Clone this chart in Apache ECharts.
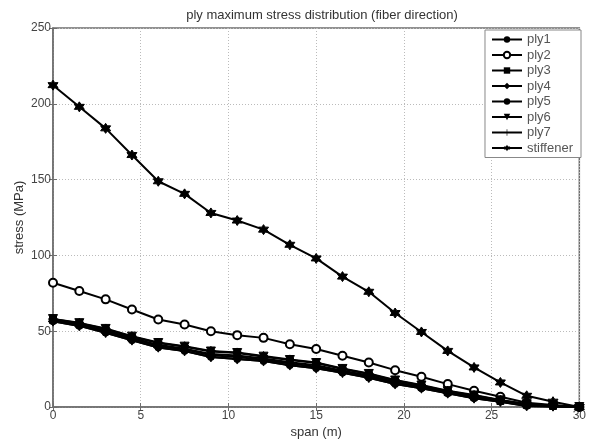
<!DOCTYPE html>
<html>
<head>
<meta charset="utf-8">
<script src="https://cdn.jsdelivr.net/npm/echarts@6/dist/echarts.min.js"></script>
<style>html,body{margin:0;padding:0;background:#fff}#c{width:589px;height:444px}</style>
</head>
<body>
<div id="c"></div>
<script>
const span = [0, 1.5, 3, 4.5, 6, 7.5, 9, 10.5, 12, 13.5, 15, 16.5, 18, 19.5, 21, 22.5, 24, 25.5, 27, 28.5, 30];
const ply1 = [56.5, 53.5, 49, 44, 39.3, 37, 33, 31.6, 30.3, 27.6, 25.6, 22.6, 19.3, 15.1, 12.3, 9, 5.7, 3.5, 0.7, 0.4, 0];
const ply2 = [82, 76.5, 71, 64.3, 57.7, 54.4, 50, 47.4, 45.6, 41.4, 38.2, 33.8, 29.4, 24.3, 20, 15.1, 10.7, 6.8, 2.8, 1.3, 0];
const ply3 = [57.5, 54.5, 50.5, 45.5, 41, 38.5, 35, 34, 32, 29.5, 27.5, 24, 20.8, 16.5, 13.4, 9.8, 6.8, 4, 1.4, 0.7, 0];
const ply4 = [58, 55.5, 51.8, 46.7, 42.5, 40.1, 37, 36, 33.6, 31.4, 29.3, 25.4, 22.1, 17.8, 14.5, 10.7, 7.9, 4.6, 2, 1, 0];
const ply5 = [57, 54, 50, 45, 40.3, 38, 34.2, 33, 31.2, 28.7, 26.6, 23.4, 20.1, 15.8, 12.9, 9.4, 6.3, 3.8, 1, 0.5, 0];
const ply6 = [58, 55.3, 51.5, 46.4, 42.2, 39.8, 36.6, 35.6, 33.2, 31, 29, 25.1, 21.8, 17.5, 14.2, 10.4, 7.6, 4.4, 1.8, 0.9, 0];
const ply7 = [56.5, 53.5, 49, 44, 39.3, 37, 33, 31.6, 30.3, 27.6, 25.6, 22.6, 19.3, 15.1, 12.3, 9, 5.7, 3.5, 0.7, 0.4, 0];
const stiffener = [212.3, 198, 183.8, 166.2, 148.9, 140.6, 128, 123, 117, 107, 98, 86, 76, 62, 49.5, 37, 26.1, 16.2, 7.4, 3.5, 0];
const xTicks = [0, 5, 10, 15, 20, 25, 30];
const yTicks = [0, 50, 100, 150, 200, 250];

const STAR = 'path://M10 0 L12.89 5 L18.66 5 L15.77 10 L18.66 15 L12.89 15 L10 20 L7.11 15 L1.34 15 L4.23 10 L1.34 5 L7.11 5 Z';
const PLUS = 'path://M9 0 H11 V9 H20 V11 H11 V20 H9 V11 H0 V9 H9 Z';

function mk(name, vals, symbol, size, extra) {
  return Object.assign({
    name: name, type: 'line',
    data: span.map((x, i) => [x, vals[i]]),
    symbol: symbol, symbolSize: size, showAllSymbol: true,
    lineStyle: {color: '#000', width: 2},
    itemStyle: {color: '#000', borderColor: '#000'},
    emphasis: {disabled: true},
    animation: false, z: 3
  }, extra || {});
}

const series = [
  mk('ply1', ply1, 'circle', 7),
  mk('ply2', ply2, 'emptyCircle', 8, {itemStyle: {color: '#000', borderColor: '#000', borderWidth: 2.6}}),
  mk('ply3', ply3, 'rect', 7),
  mk('ply4', ply4, 'diamond', 9),
  mk('ply5', ply5, 'circle', 5),
  mk('ply6', ply6, 'triangle', 9, {symbolRotate: 180}),
  mk('ply7', ply7, PLUS, 9),
  mk('stiffener', stiffener, STAR, 10)
];

const axisColor = '#6e6e6e';
const labelColor = '#444';
const chart = echarts.init(document.getElementById('c'), null, {renderer: 'canvas'});
chart.setOption({
  backgroundColor: '#fff',
  animation: false,
  title: {
    text: 'ply maximum stress distribution (fiber direction)',
    left: 317, top: 4, textAlign: 'center',
    textStyle: {fontFamily: 'Liberation Sans', fontSize: 13, fontWeight: 'normal', color: '#333'}
  },
  grid: {left: 53, right: 7, top: 28, bottom: 37, containLabel: false,
         show: true, borderColor: axisColor, borderWidth: 1.5, backgroundColor: '#fff'},
  legend: {
    orient: 'vertical', right: 8, top: 30,
    backgroundColor: '#fff', borderColor: '#888', borderWidth: 1,
    padding: [3, 8, 3, 6],
    itemWidth: 30, itemHeight: 8, itemGap: 2.5,
    textStyle: {fontFamily: 'Liberation Sans', fontSize: 13, color: '#555', lineHeight: 13},
    data: series.map(s => s.name)
  },
  xAxis: [{
    type: 'value', min: 0, max: 30, interval: 5,
    name: 'span (m)', nameLocation: 'middle', nameGap: 19, nameMoveOverlap: false,
    nameTextStyle: {fontFamily: 'Liberation Sans', fontSize: 13, color: '#333'},
    axisLine: {show: true, onZero: false, lineStyle: {color: axisColor, width: 1.5}},
    axisTick: {show: true, inside: true, length: 4, lineStyle: {color: axisColor}},
    axisLabel: {fontFamily: 'Liberation Sans', fontSize: 12, color: labelColor, margin: 3,
      formatter: v => xTicks.includes(v) ? String(v) : ''},
    splitLine: {show: true, lineStyle: {color: '#bbb', type: [1, 2], width: 1}}
  }, {
    type: 'value', min: 0, max: 30, interval: 5, position: 'top',
    axisLine: {show: false}, axisLabel: {show: false}, splitLine: {show: false},
    axisTick: {show: true, inside: true, length: 4, lineStyle: {color: axisColor}}
  }],
  yAxis: [{
    type: 'value', min: 0, max: 250, interval: 50,
    name: 'stress (MPa)', nameLocation: 'middle', nameGap: 27, nameRotate: 90, nameMoveOverlap: false,
    nameTextStyle: {fontFamily: 'Liberation Sans', fontSize: 13, color: '#333'},
    axisLine: {show: true, onZero: false, lineStyle: {color: axisColor, width: 1.5}},
    axisTick: {show: true, inside: true, length: 4, lineStyle: {color: axisColor}},
    axisLabel: {fontFamily: 'Liberation Sans', fontSize: 12, color: labelColor, margin: 2,
      formatter: v => yTicks.includes(v) ? String(v) : ''},
    splitLine: {show: true, lineStyle: {color: '#bbb', type: [1, 2], width: 1}}
  }, {
    type: 'value', min: 0, max: 250, interval: 50, position: 'right',
    axisLine: {show: false}, axisLabel: {show: false}, splitLine: {show: false},
    axisTick: {show: true, inside: true, length: 4, lineStyle: {color: axisColor}}
  }],
  series: series
});
</script>
</body>
</html>
